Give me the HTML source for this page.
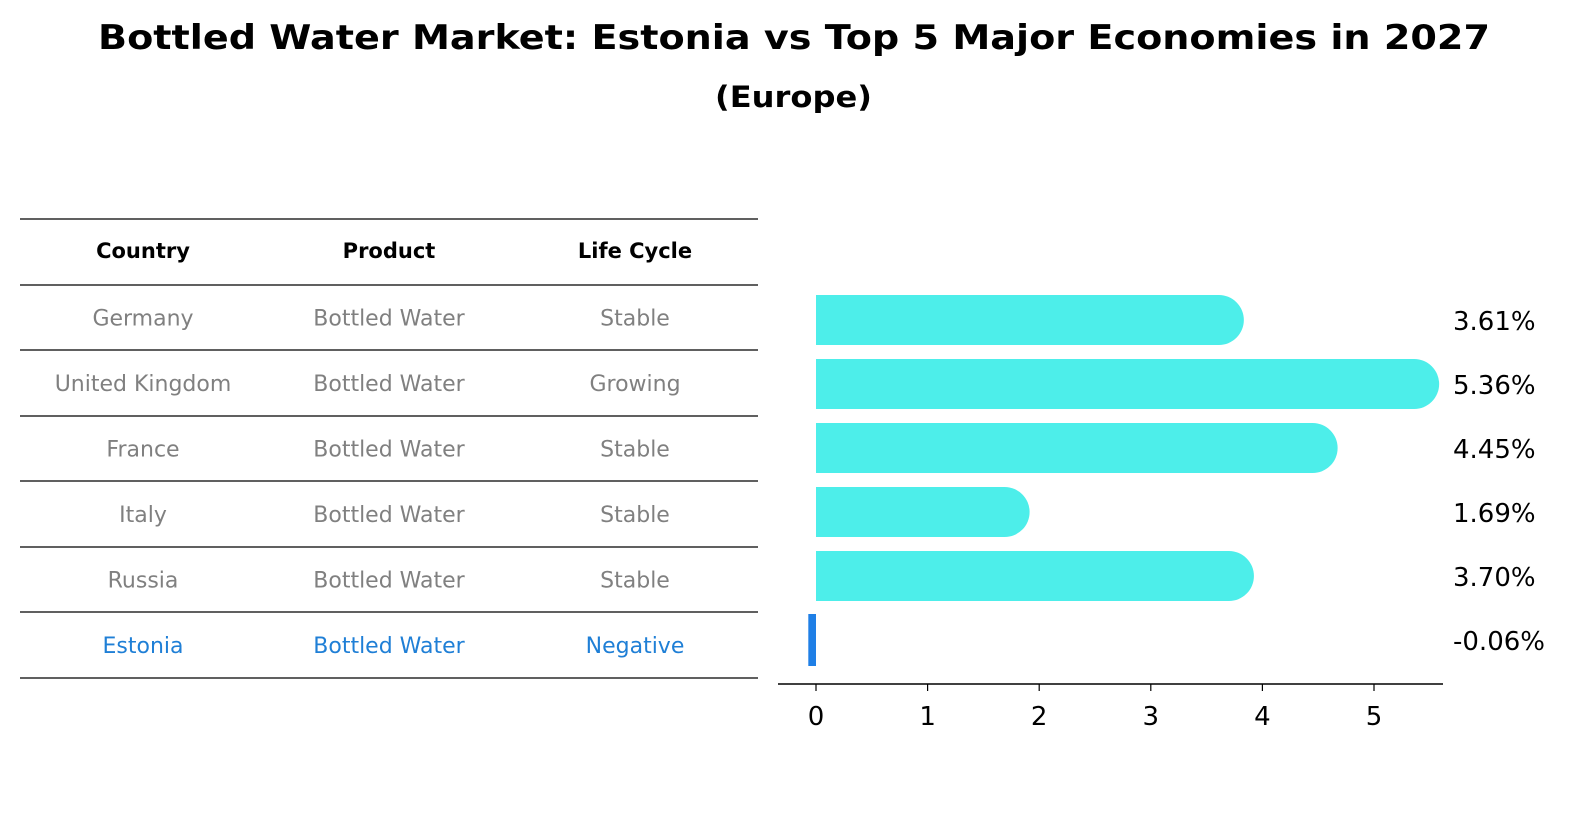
<!DOCTYPE html>
<html><head><meta charset="utf-8"><style>
body{margin:0;background:#fff;width:1596px;height:823px;overflow:hidden;font-family:"DejaVu Sans","Liberation Sans",sans-serif}
</style></head><body>
<svg width="1596" height="823" xmlns="http://www.w3.org/2000/svg" font-family="DejaVu Sans, Liberation Sans, sans-serif">
<text x="98" y="49" font-size="34" font-weight="bold" textLength="1392" lengthAdjust="spacingAndGlyphs">Bottled Water Market: Estonia vs Top 5 Major Economies in 2027</text>
<text x="715" y="107" font-size="29" font-weight="bold" textLength="157" lengthAdjust="spacingAndGlyphs">(Europe)</text>
<g id="table"></g>
<g id="chart"></g>
</svg>
<script>
const countries=["Germany","United Kingdom","France","Italy","Russia","Estonia"];
const products=["Bottled Water","Bottled Water","Bottled Water","Bottled Water","Bottled Water","Bottled Water"];
const lifecycles=["Stable","Growing","Stable","Stable","Stable","Negative"];
const values=[3.61,5.36,4.45,1.69,3.70,-0.06];
const labels=["3.61%","5.36%","4.45%","1.69%","3.70%","-0.06%"];
const ticks=[0,1,2,3,4,5];
const NS="http://www.w3.org/2000/svg";
function mk(p,t,a){const e=document.createElementNS(NS,t);for(const k in a)e.setAttribute(k,a[k]);p.appendChild(e);return e;}
const tb=document.getElementById('table');
const lineYs=[219,285,350,416,481,547,612,678];
lineYs.forEach(y=>{const l=mk(tb,'line',{x1:20,x2:758,y1:y,y2:y,stroke:'#000','stroke-width':1.2});

});
const cx=[143,389,635];
["Country","Product","Life Cycle"].forEach((h,i)=>{const t=mk(tb,'text',{x:cx[i],y:258,'text-anchor':'middle','font-size':21,'font-weight':'bold'});t.textContent=h;

});
countries.forEach((c,r)=>{const y=(lineYs[r+1]+lineYs[r+2])/2+8;const col=c==="Estonia"?"#1f7fd6":"#808080";
[c,products[r],lifecycles[r]].forEach((v,i)=>{const t=mk(tb,'text',{x:cx[i],y:y,'text-anchor':'middle','font-size':22,fill:col});t.textContent=v;

});});
const ch=document.getElementById('chart');
const x0=816,ppu=111.6;const X=v=>x0+v*ppu;
const Y=i=>320+i*64;
values.forEach((v,i)=>{const cy=Y(i);
if(v>=0){const b=mk(ch,'path',{d:`M${x0},${cy-25} H${X(v)} A25,25 0 0 1 ${X(v)},${cy+25} H${x0} Z`,fill:'#4deeea'});

}
else{const b=mk(ch,'rect',{x:X(v)-1,y:cy-26,width:Math.max(5,-v*ppu+1),height:52,fill:'#1f7fe6'});

}
const t=mk(ch,'text',{x:1453,y:cy+10,'font-size':26});t.textContent=labels[i];

});
const ax=mk(ch,'line',{x1:778,x2:1443,y1:684,y2:684,stroke:'#000','stroke-width':1.5});


ticks.forEach(t=>{const l=mk(ch,'line',{x1:X(t),x2:X(t),y1:684,y2:691,stroke:'#000','stroke-width':1.2});


const s=mk(ch,'text',{x:X(t),y:725,'text-anchor':'middle','font-size':26});s.textContent=t;

});
</script>
</body></html>
